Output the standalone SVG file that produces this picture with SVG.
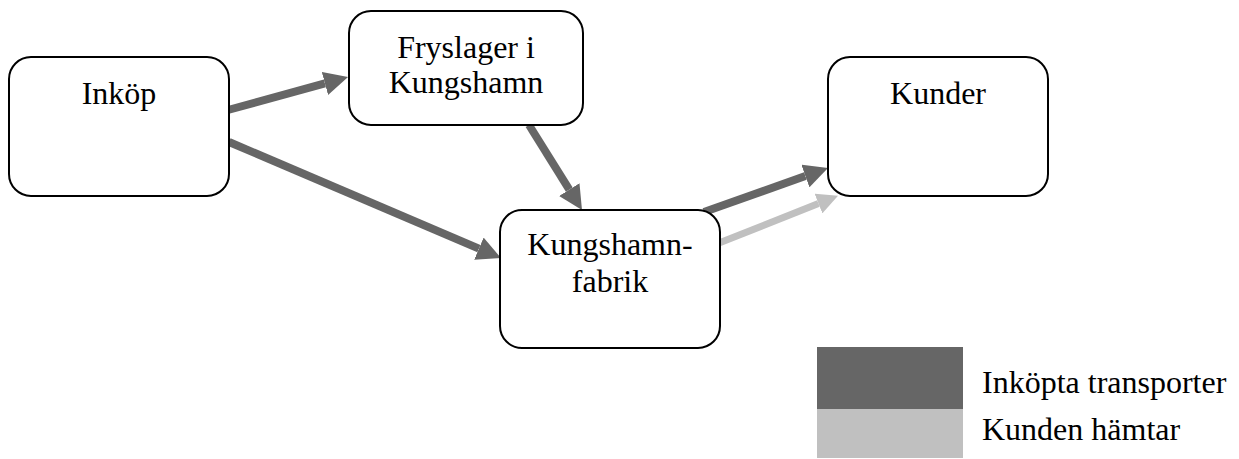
<svg xmlns="http://www.w3.org/2000/svg" width="1239" height="459" viewBox="0 0 1239 459">
<style>
.box{fill:#fff;stroke:#000;stroke-width:2}
.dk{stroke:#666;stroke-width:8;fill:none}
.lt{stroke:#c0c0c0;stroke-width:7;fill:none}
</style>
<defs>
<marker id="hd" markerWidth="3" markerHeight="3" refX="0" refY="1.5" orient="auto" markerUnits="strokeWidth">
<path d="M0,0 L3,1.5 L0,3 z" fill="#666"/>
</marker>
<marker id="hl" markerWidth="3" markerHeight="3" refX="0" refY="1.5" orient="auto" markerUnits="strokeWidth">
<path d="M0,0 L3,1.5 L0,3 z" fill="#c0c0c0"/>
</marker>
</defs>
<g id="connectors">
<line class="dk" x1="228" y1="110" x2="324.9" y2="83.4" marker-end="url(#hd)"/>
<line class="dk" x1="229" y1="142" x2="478.9" y2="248.6" marker-end="url(#hd)"/>
<line class="dk" x1="529" y1="125" x2="569.3" y2="189.6" marker-end="url(#hd)"/>
<line class="dk" x1="704" y1="212" x2="805.4" y2="176" marker-end="url(#hd)"/>
<line class="lt" x1="719" y1="243" x2="818.5" y2="203.6" marker-end="url(#hl)"/>
</g>
<g font-family="Liberation Serif, Times New Roman, serif" font-size="32" fill="#000">
<g id="inkop">
<rect class="box" x="9" y="57" width="220" height="139" rx="22"/>
<text x="119" y="104" text-anchor="middle">Inköp</text>
</g>
<g id="fryslager">
<rect class="box" x="349" y="11" width="234" height="114" rx="22"/>
<text x="466" y="58" text-anchor="middle">Fryslager i</text>
<text x="466" y="93" text-anchor="middle">Kungshamn</text>
</g>
<g id="fabrik">
<rect class="box" x="500" y="210" width="220" height="138" rx="22"/>
<text x="610" y="255" text-anchor="middle">Kungshamn-</text>
<text x="610" y="292" text-anchor="middle">fabrik</text>
</g>
<g id="kunder">
<rect class="box" x="828" y="57" width="220" height="139" rx="22"/>
<text x="938" y="104" text-anchor="middle">Kunder</text>
</g>
<g id="legend">
<rect x="817" y="347" width="146" height="62" fill="#666"/>
<rect x="817" y="409" width="146" height="49" fill="#c0c0c0"/>
<text x="982" y="393">Inköpta transporter</text>
<text x="982" y="440">Kunden hämtar</text>
</g>
</g>
</svg>
